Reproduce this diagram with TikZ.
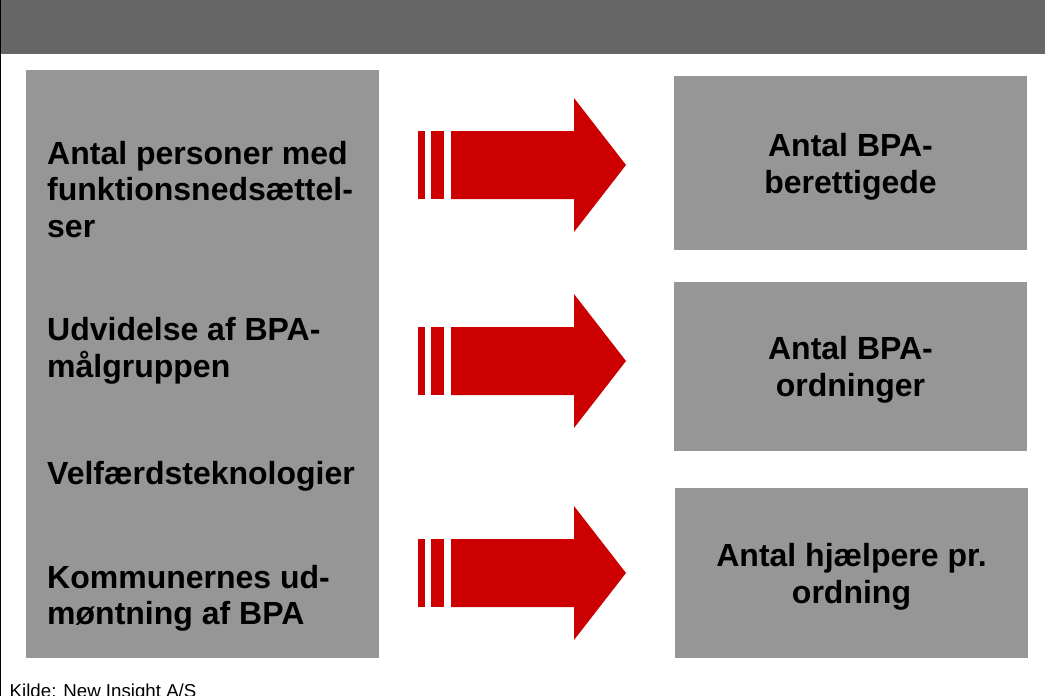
\documentclass[tikz,border=0pt]{standalone}
\usepackage{fontspec}
\setmainfont{Liberation Sans}
\definecolor{boxgrey}{HTML}{969696}
\definecolor{headgrey}{HTML}{666666}
\definecolor{arrowred}{HTML}{CC0000}
\tikzset{
  greybox/.style={fill=boxgrey, draw=none},
  lefttext/.style={anchor=base west, inner sep=0pt, align=left, text=black,
    font=\bfseries\fontsize{32}{36.5}\selectfont},
  righttext/.style={anchor=base, inner sep=0pt, align=center, text=black,
    font=\bfseries\fontsize{32}{37}\selectfont},
  redarrow/.pic={
    \fill[arrowred] (418,-34) rectangle (425,34);
    \fill[arrowred] (431,-34) rectangle (444,34);
    \fill[arrowred] (451,-34) -- (574,-34) -- (574,-67) -- (626,0)
      -- (574,67) -- (574,34) -- (451,34) -- cycle;
  }
}
\begin{document}
\begin{tikzpicture}[x=1pt, y=-1pt]
\useasboundingbox (0,0) rectangle (1045,696);
\fill[white] (0,0) rectangle (1045,696);
% header band and left rule
\fill[headgrey] (1.3,0) rectangle (1045,54);
\fill[black] (0,0) rectangle (1.3,696);
% boxes
\fill[greybox] (26,70) rectangle (379,658);
\fill[greybox] (674,76) rectangle (1027,250);
\fill[greybox] (674,282) rectangle (1027,451);
\fill[greybox] (675,488) rectangle (1028,658);
% arrows
\pic at (0,165) {redarrow};
\pic at (0,361) {redarrow};
\pic at (0,573) {redarrow};
% left texts (anchor = baseline of last line)
\node[lefttext] (l1) at (47,237) {Antal personer med\\funktionsneds\ae ttel-\\ser};
\node[lefttext] (l2) at (47,377) {Udvidelse af BPA-\\m\aa lgruppen};
\node[lefttext] (l3) at (47,484) {Velf\ae rdsteknologier};
\node[lefttext] (l4) at (47,624.5) {Kommunernes ud-\\m\o ntning af BPA};
% right texts (anchor = baseline of last line)
\node[righttext] (r1) at (850.5,193) {Antal BPA-\\berettigede};
\node[righttext] (r2) at (850.5,396) {Antal BPA-\\ordninger};
\node[righttext] (r3) at (851.5,603) {Antal hj\ae lpere pr.\\ordning};
% source
\node[anchor=base west, inner sep=0pt, font=\fontsize{18.7}{22}\selectfont] (src) at (9.5,697.5) {Kilde: New Insight A/S};
\end{tikzpicture}
\end{document}
